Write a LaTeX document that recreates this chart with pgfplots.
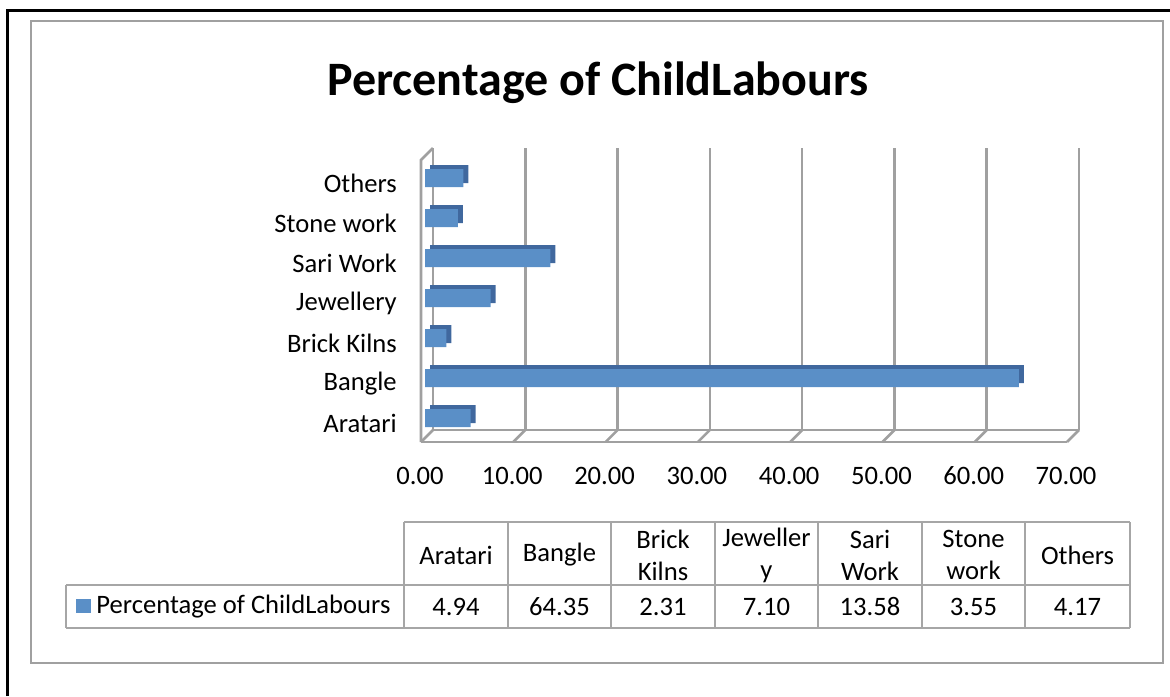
\documentclass[border=0pt]{standalone}
\usepackage{pgfplots}
\pgfplotsset{compat=1.18}
\usepackage{fontspec}
\setmainfont{Carlito}
\definecolor{barfront}{RGB}{90,143,199}
\definecolor{barback}{RGB}{64,104,158}
\definecolor{gridgray}{RGB}{160,160,160}
\definecolor{tablegray}{RGB}{166,166,166}
\newcommand{\bodyfont}{\fontsize{13.3}{16}\selectfont}
\begin{document}
\begin{tikzpicture}
\begin{scope}[x=0.5pt,y=-0.5pt]
\useasboundingbox (0,0) rectangle (1170,696);
% outer black frame (top and left)
\draw[black,line width=1.5pt] (7,696) -- (7,10) -- (1170,10);
% inner gray frame
\draw[gridgray,line width=1.3pt] (31,21) rectangle (1163,663);
% title
\node[anchor=base,font=\fontsize{24}{28}\selectfont\bfseries] at (598,95) {Percentage of ChildLabours};
% data table
\draw[tablegray,line width=1pt] (404,522) -- (1130,522);
\draw[tablegray,line width=1pt] (66,585) -- (1130,585);
\draw[tablegray,line width=1pt] (66,628) -- (1130,628);
\draw[tablegray,line width=1pt] (66,585) -- (66,628);
\foreach \xx in {404,508,611,715,818,922,1025,1130}
  \draw[tablegray,line width=1pt] (\xx,522) -- (\xx,628);
\foreach \cx/\txt in {456/Aratari,559.5/Bangle,663/{Brick\\Kilns},766.5/{Jeweller\\y},870/{Sari\\Work},973.5/{Stone\\work},1077.5/Others}
  \node[align=center,font=\bodyfont,inner sep=0pt] at (\cx,555) {\txt};
\foreach \cx/\txt in {456/4.94,559.5/64.35,663/2.31,766.5/7.10,870/13.58,973.5/3.55,1077.5/4.17}
  \node[font=\bodyfont,inner sep=0pt] at (\cx,607) {\txt};
\fill[barfront] (76,599) rectangle (91,613);
\node[anchor=west,font=\bodyfont,inner sep=0pt] at (96,606.5) {Percentage of ChildLabours};
\end{scope}
\begin{axis}[
  at={(212.5pt,-219pt)}, anchor=south west,
  scale only axis, width=323pt, height=141pt,
  xmin=0, xmax=70, ymin=-0.5, ymax=6.55,
  clip=false,
  axis line style={draw=none},
  tick style={draw=none},
  xtick={0,10,...,70},
  scaled x ticks=false,
  x tick label style={/pgf/number format/fixed, /pgf/number format/fixed zerofill, /pgf/number format/precision=2, /pgf/number format/assume math mode=true, anchor=base, yshift=-23.2pt, xshift=-2.5pt, font=\bodyfont},
  ytick={0,...,6},
  yticklabels={Aratari,Bangle,Brick Kilns,Jewellery,Sari Work,Stone work,Others},
  y tick label style={anchor=east, xshift=-10.6pt, yshift=-2.8pt, font=\bodyfont},
]
% back wall gridlines
\pgfplotsinvokeforeach{0,10,...,70}{
  \draw[gridgray,line width=1.3pt] ([shift={(4pt,4pt)}]axis cs:#1,-0.5) -- ([shift={(4pt,4pt)}]axis cs:#1,6.55);
  \draw[gridgray,line width=1.3pt] ([shift={(-2pt,-2pt)}]axis cs:#1,-0.5) -- ([shift={(4pt,4pt)}]axis cs:#1,-0.5);
}
% floor edges
\draw[gridgray,line width=1.3pt] ([shift={(4pt,4pt)}]axis cs:0,-0.5) -- ([shift={(4pt,4pt)}]axis cs:70,-0.5);
\draw[gridgray,line width=1.3pt] ([shift={(-2pt,-2pt)}]axis cs:0,-0.5) -- ([shift={(-2pt,-2pt)}]axis cs:70,-0.5);
% left wall
\draw[gridgray,line width=1.3pt] ([shift={(-2pt,-2pt)}]axis cs:0,-0.5) -- ([shift={(-2pt,-2pt)}]axis cs:0,6.55) -- ([shift={(4pt,4pt)}]axis cs:0,6.55);
% bars: depth faces
\addplot[xbar, bar width=9pt, fill=barback, draw=none, xshift=2.5pt, yshift=2pt] coordinates {
  (4.94,0) (64.35,1) (2.31,2) (7.10,3) (13.58,4) (3.55,5) (4.17,6)
};
% bars: front faces
\addplot[xbar, bar width=9pt, fill=barfront, draw=none] coordinates {
  (4.94,0) (64.35,1) (2.31,2) (7.10,3) (13.58,4) (3.55,5) (4.17,6)
};
\end{axis}
\end{tikzpicture}
\end{document}
